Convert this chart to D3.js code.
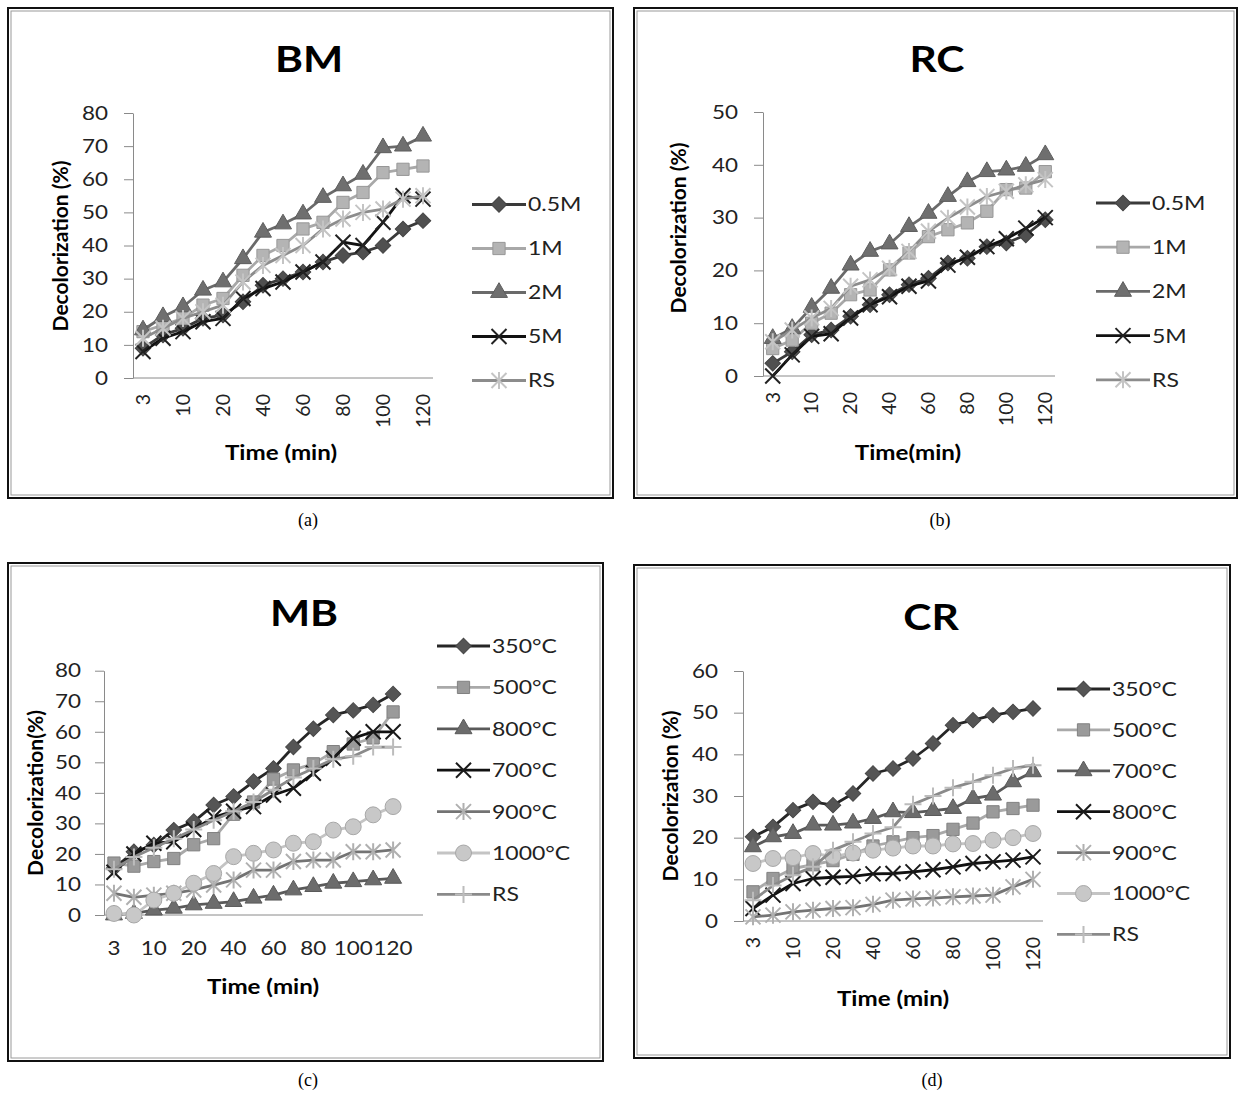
<!DOCTYPE html>
<html>
<head>
<meta charset="utf-8">
<script src="https://cdn.jsdelivr.net/npm/d3@7"></script>
<style>
  body { margin: 0; background: #fff; }
  text { font-family: Lato, "Open Sans", sans-serif; }
</style>
</head>
<body>
<svg id="fig" width="1240" height="1093"></svg>
<script>
// time points (min) and the ones that get a label
var times = [3, 5, 10, 15, 20, 30, 40, 50, 60, 70, 80, 90, 100, 110, 120];
var labelTimes = [3, 10, 20, 40, 60, 80, 100, 120];

// (a) BM
var bmNames = ["0.5M", "1M", "2M", "5M", "RS"];
var bm05 = [9, 13, 15, 18, 19, 23, 28, 30, 32, 35, 37, 38, 40, 45, 47.5];
var bm1  = [14, 16, 18, 22, 24, 31, 37, 40, 45, 47, 53, 56, 62, 63, 64];
var bm2  = [14.5, 18.5, 21.5, 26.5, 29, 36, 44, 46.5, 49.5, 54.5, 58, 61.5, 69.5, 70, 73];
var bm5  = [8, 12, 14, 17, 18, 24, 27, 29, 32, 35, 41, 40, 47, 55, 54];
var bmRS = [12, 15, 18, 20, 22, 29, 34, 37, 40, 45, 48, 50, 51, 54, 55];

// (b) RC
var rcNames = ["0.5M", "1M", "2M", "5M", "RS"];
var rc05 = [2.4, 4.6, 7.8, 8.7, 11.3, 13.5, 15.4, 17.3, 18.5, 21.4, 22.3, 24.5, 25.2, 26.7, 29.6];
var rc1  = [5.2, 6.8, 10, 11.9, 15.4, 16.3, 20.1, 23.3, 26.4, 27.7, 29, 31.2, 35.3, 35.6, 38.7];
var rc2  = [7.1, 9, 13, 16.6, 21, 23.6, 25, 28.3, 30.8, 34, 36.8, 38.7, 39, 39.7, 41.9];
var rc5  = [0, 4, 7.5, 8, 11, 13.5, 15, 17, 18, 21, 22.5, 24.5, 26, 28, 30];
var rcRS = [6.5, 8.7, 11, 12.8, 17, 18.2, 20.4, 23.6, 27.4, 29.9, 32, 34, 35, 36.2, 37.2];

// (c) MB
var mbNames = ["350°C", "500°C", "800°C", "700°C", "900°C", "1000°C", "RS"];
var mb350  = [15.3, 20.7, 22.9, 27.8, 30.6, 36, 38.8, 43.7, 48, 55, 61, 65.5, 67, 68.8, 72.4];
var mb500  = [17, 16, 17.5, 18.5, 23, 25, 33, 37, 44.5, 47.5, 49.5, 53.5, 56, 58, 66.5];
var mb800  = [0, 0.5, 1.6, 2.2, 3.3, 3.8, 4.4, 5.5, 6.5, 8.2, 9.3, 10.4, 10.9, 11.5, 12];
var mb700  = [14, 20, 23.5, 24, 28, 32, 34, 35.5, 39.3, 41.5, 46.4, 51.3, 57.9, 60, 60];
var mb900  = [7.1, 5.8, 6.5, 7.1, 8.2, 9.8, 11.5, 14.7, 14.7, 17.5, 18, 18, 20.7, 20.7, 21.3];
var mb1000 = [0.5, 0, 4.9, 7.1, 10.4, 13.6, 19.1, 20.2, 21.3, 23.5, 24, 27.8, 28.9, 32.8, 35.5];
var mbRS   = [15, 19, 22, 25, 28, 31, 34, 37, 41, 45, 48, 51, 52, 55, 55];

// (d) CR
var crNames = ["350°C", "500°C", "700°C", "800°C", "900°C", "1000°C", "RS"];
var cr350  = [20.2, 22.6, 26.6, 28.6, 27.8, 30.6, 35.4, 36.6, 39, 42.6, 47, 48.2, 49.4, 50.2, 51];
var cr500  = [7, 10.2, 12.6, 13.5, 14.5, 16, 18, 19, 20, 20.5, 22, 23.5, 26.2, 27, 27.8];
var cr700  = [17.8, 20.2, 21, 23, 23, 23.5, 24.6, 26.2, 26, 26.5, 27, 29.4, 30.2, 33.4, 35.8];
var cr800  = [3, 6.2, 9, 10.2, 10.5, 10.7, 11.3, 11.4, 11.8, 12.3, 13, 13.8, 14.2, 14.6, 15.4];
var cr900  = [1, 1.4, 2.2, 2.6, 3, 3.2, 4, 5, 5.3, 5.5, 5.8, 6, 6.2, 8.2, 10];
var cr1000 = [13.8, 15, 15.2, 16.2, 15.5, 16.3, 17, 17.5, 18, 18, 18.5, 18.6, 19.4, 20, 21];
var crRS   = [5, 8.5, 11, 13, 17, 19, 21, 22.5, 28, 30, 32, 33.4, 35, 36.6, 37.4];

// marker / line styles in legend order
var molarStyles = [
  {shape: "diamond",  fill: "#505050", line: "#3a3a3a"},
  {shape: "square",   fill: "#b4b4b4", line: "#a8a8a8"},
  {shape: "triangle", fill: "#6f6f6f", line: "#6a6a6a"},
  {shape: "x",        fill: "#222",    line: "#111"},
  {shape: "asterisk", fill: "#c4c4c4", line: "#8c8c8c"}
];
var tempStyles = [
  {shape: "diamond",  fill: "#555",    line: "#262626"},
  {shape: "square",   fill: "#9a9a9a", line: "#a9a9a9"},
  {shape: "triangle", fill: "#6c6c6c", line: "#5a5a5a"},
  {shape: "x",        fill: "#1a1a1a", line: "#111"},
  {shape: "asterisk", fill: "#b0b0b0", line: "#737373"},
  {shape: "circle",   fill: "#c8c8c8", line: "#c4c4c4"},
  {shape: "plus",     fill: "#bcbcbc", line: "#8a8a8a"}
];

var panels = [
  {title: "BM", caption: "(a)", names: bmNames, series: [bm05, bm1, bm2, bm5, bmRS], styles: molarStyles,
   box: [8, 8, 605, 490], titleX: 309, titleY: 72, capX: 308, capY: 526,
   x0: 133, x1: 433, y0: 378, yTop: 113, yMax: 80, slots: 15, rotate: true, xPad: 16, yPad: 16,
   yTitle: "Decolorization (%)", yTitleX: 61, yTitleY: 246,
   xTitle: "Time (min)", xTitleX: 281, xTitleY: 460,
   legX0: 472, legX1: 526, legY0: 204.5, legDy: 44},
  {title: "RC", caption: "(b)", names: rcNames, series: [rc05, rc1, rc2, rc5, rcRS], styles: molarStyles,
   box: [634, 8, 603, 490], titleX: 937, titleY: 72, capX: 940, capY: 526,
   x0: 763, x1: 1055, y0: 376, yTop: 112, yMax: 50, slots: 15, rotate: true, xPad: 16, yPad: 16,
   yTitle: "Decolorization (%)", yTitleX: 679, yTitleY: 228,
   xTitle: "Time(min)", xTitleX: 908, xTitleY: 460,
   legX0: 1096, legX1: 1150, legY0: 203, legDy: 44.2},
  {title: "MB", caption: "(c)", names: mbNames, series: [mb350, mb500, mb800, mb700, mb900, mb1000, mbRS], styles: tempStyles,
   box: [8, 563, 595, 498], titleX: 304, titleY: 626, capX: 308, capY: 1086,
   x0: 104, x1: 423, y0: 915, yTop: 670.7, yMax: 80, slots: 16, rotate: false, xPad: 26, yPad: 14,
   yTitle: "Decolorization(%)", yTitleX: 36, yTitleY: 793,
   xTitle: "Time (min)", xTitleX: 263, xTitleY: 994,
   legX0: 437, legX1: 490, legY0: 646, legDy: 41.4},
  {title: "CR", caption: "(d)", names: crNames, series: [cr350, cr500, cr700, cr800, cr900, cr1000, crRS], styles: tempStyles,
   box: [634, 565, 596, 493], titleX: 931, titleY: 630, capX: 932, capY: 1086,
   x0: 743, x1: 1043, y0: 921, yTop: 671, yMax: 60, slots: 15, rotate: true, xPad: 16, yPad: 16,
   yTitle: "Decolorization (%)", yTitleX: 671, yTitleY: 796,
   xTitle: "Time (min)", xTitleX: 893, xTitleY: 1006,
   legX0: 1057, legX1: 1110, legY0: 689, legDy: 40.9}
];

var svg = d3.select("#fig");
svg.append("rect").attr("width", 1240).attr("height", 1093).attr("fill", "#fff");

// the picture is a bit wider than tall, so horizontal text is stretched around its anchor
var stretchK = 1.15;
function stretch(sel) {
  sel.each(function() {
    var t = d3.select(this);
    var tx = parseFloat(t.attr("x")) || 0, ty = parseFloat(t.attr("y")) || 0;
    t.attr("transform", "translate(" + tx + "," + ty + ") scale(" + stretchK + ",1) translate(" + (-tx) + "," + (-ty) + ")");
  });
}

// draw one marker centred on (cx, cy)
function drawMarker(g, st, cx, cy) {
  var s = 7.5;
  if (st.shape == "x" || st.shape == "asterisk" || st.shape == "plus") {
    var d = "";
    if (st.shape != "plus") d += "M" + (-s) + "," + (-s) + "L" + s + "," + s + "M" + (-s) + "," + s + "L" + s + "," + (-s);
    if (st.shape != "x") d += "M0," + (-s - 1) + "L0," + (s + 1);
    if (st.shape == "plus") d += "M" + (-s - 1) + ",0L" + (s + 1) + ",0";
    g.append("path")
      .attr("d", d)
      .attr("transform", "translate(" + cx + "," + cy + ")")
      .attr("fill", "none")
      .attr("stroke", st.fill)
      .attr("stroke-width", 2);
    return;
  }
  var sym;
  if (st.shape == "diamond") sym = d3.symbol().type(d3.symbolSquare).size(120);
  else if (st.shape == "square") sym = d3.symbol().type(d3.symbolSquare).size(150);
  else if (st.shape == "triangle") sym = d3.symbol().type(d3.symbolTriangle).size(125);
  else sym = d3.symbol().type(d3.symbolCircle).size(200);
  g.append("path")
    .attr("d", sym())
    .attr("transform", "translate(" + cx + "," + cy + ")" + (st.shape == "diamond" ? " rotate(45)" : ""))
    .attr("fill", st.fill)
    .attr("stroke", d3.color(st.fill).darker(0.5))
    .attr("stroke-width", 1);
}

function drawPanel(p) {
  var g = svg.append("g");

  // double frame
  g.append("rect")
    .attr("x", p.box[0]).attr("y", p.box[1])
    .attr("width", p.box[2]).attr("height", p.box[3])
    .attr("fill", "none").attr("stroke", "#111").attr("stroke-width", 2);
  g.append("rect")
    .attr("x", p.box[0] + 3).attr("y", p.box[1] + 3)
    .attr("width", p.box[2] - 6).attr("height", p.box[3] - 6)
    .attr("fill", "none").attr("stroke", "#9a9a9a").attr("stroke-width", 1);

  g.append("text")
    .attr("x", p.titleX).attr("y", p.titleY)
    .attr("text-anchor", "middle")
    .style("font-size", "37px").style("font-weight", "bold")
    .text(p.title)
    .call(stretch);

  svg.append("text")
    .attr("x", p.capX).attr("y", p.capY)
    .attr("text-anchor", "middle")
    .style("font-family", "'Liberation Serif', 'Times New Roman', serif")
    .style("font-size", "18px")
    .text(p.caption);

  // scales
  var bandW = (p.x1 - p.x0) / p.slots;
  var x = d3.scaleBand().domain(times).range([p.x0, p.x0 + bandW * times.length]);
  var y = d3.scaleLinear().domain([0, p.yMax]).range([p.y0, p.yTop]);
  var cx = function(t) { return x(t) + x.bandwidth() / 2; };

  // y axis
  var yAxis = g.append("g")
    .attr("transform", "translate(" + p.x0 + ",0)")
    .call(d3.axisLeft(y).tickValues(d3.range(0, p.yMax + 1, 10)).tickSize(9).tickSizeOuter(0).tickPadding(p.yPad));
  yAxis.selectAll("path, line").attr("stroke", "#8a8a8a");
  yAxis.selectAll("text").style("font-size", "19.5px").style("font-family", "Lato, sans-serif").attr("fill", "#222")
    .call(stretch);

  // x axis
  var xAxis = g.append("g")
    .attr("transform", "translate(0," + p.y0 + ")")
    .call(d3.axisBottom(x).tickSize(0).tickPadding(p.rotate ? 0 : p.xPad)
      .tickFormat(function(t) { return labelTimes.indexOf(t) >= 0 ? t : ""; }));
  xAxis.select(".domain").remove();
  xAxis.selectAll("text").style("font-size", "19.5px").style("font-family", "Lato, sans-serif").attr("fill", "#222");
  if (p.rotate) {
    xAxis.selectAll("text")
      .attr("transform", "rotate(-90)")
      .attr("x", -p.xPad).attr("y", 0).attr("dy", "0.35em")
      .attr("text-anchor", "end");
  } else {
    xAxis.selectAll("text").call(stretch);
  }
  g.append("line")
    .attr("x1", p.x0).attr("x2", p.x1)
    .attr("y1", p.y0).attr("y2", p.y0)
    .attr("stroke", "#8a8a8a");

  // axis titles
  g.append("text")
    .attr("transform", "translate(" + p.yTitleX + "," + p.yTitleY + ") rotate(-90)")
    .attr("dy", "0.35em")
    .attr("text-anchor", "middle")
    .style("font-size", "21px").style("font-weight", "bold")
    .text(p.yTitle);
  g.append("text")
    .attr("x", p.xTitleX).attr("y", p.xTitleY)
    .attr("text-anchor", "middle")
    .style("font-size", "21px").style("font-weight", "bold")
    .text(p.xTitle)
    .call(stretch);

  // series
  var line = d3.line()
    .x(function(d, i) { return cx(times[i]); })
    .y(function(d) { return y(d); });

  p.series.forEach(function(vals, k) {
    var st = p.styles[k];
    g.append("path")
      .datum(vals)
      .attr("d", line)
      .attr("fill", "none")
      .attr("stroke", st.line)
      .attr("stroke-width", 2.8)
      .attr("stroke-linejoin", "round");
    vals.forEach(function(v, i) {
      drawMarker(g, st, cx(times[i]), y(v));
    });
  });

  // legend
  p.names.forEach(function(name, k) {
    var st = p.styles[k];
    var ly = p.legY0 + k * p.legDy;
    g.append("line")
      .attr("x1", p.legX0).attr("x2", p.legX1)
      .attr("y1", ly).attr("y2", ly)
      .attr("stroke", st.line).attr("stroke-width", 2.8);
    drawMarker(g, st, (p.legX0 + p.legX1) / 2, ly);
    g.append("text")
      .attr("x", p.legX1 + 2).attr("y", ly)
      .attr("dy", "0.35em")
      .style("font-size", "20px")
      .attr("fill", "#222")
      .text(name)
      .call(stretch);
  });
}

panels.forEach(drawPanel);
</script>
</body>
</html>
